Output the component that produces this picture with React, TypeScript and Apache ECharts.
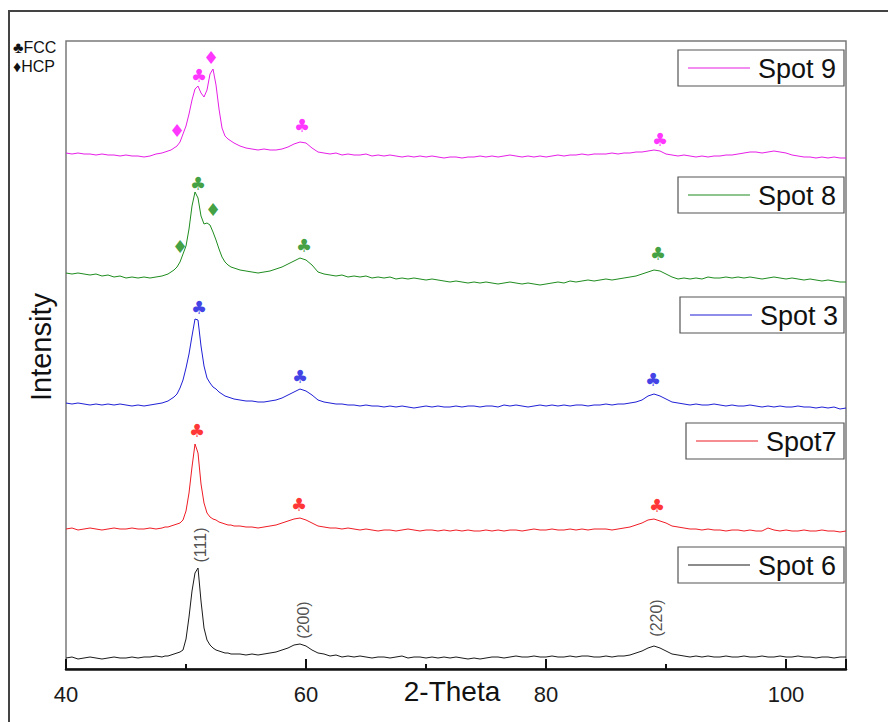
import { useEffect, useRef } from 'react';
import * as echarts from 'echarts';

// 2-theta sampling positions (degrees)
const THETA = [
  40, 40.5, 41, 41.5, 42, 42.5, 43, 43.5, 44, 44.5, 45, 45.5, 46, 46.5, 47, 47.5, 48,
  48.25, 48.5, 48.75, 49, 49.25, 49.5, 49.75, 50, 50.25, 50.5, 50.75, 51, 51.25, 51.5, 51.75, 52, 52.25, 52.5, 52.75, 53, 53.25, 53.5, 53.75, 54,
  54.5, 55, 55.5, 56, 56.5, 57, 57.5, 58, 58.5, 59, 59.5, 60, 60.5, 61, 61.5, 62, 62.5, 63, 63.5, 64,
  64.5, 65, 65.5, 66, 66.5, 67, 67.5, 68, 68.5, 69, 69.5, 70, 70.5, 71, 71.5, 72, 72.5, 73, 73.5, 74,
  74.5, 75, 75.5, 76, 76.5, 77, 77.5, 78, 78.5, 79, 79.5, 80, 80.5, 81, 81.5, 82, 82.5, 83, 83.5, 84,
  84.5, 85, 85.5, 86, 86.5, 87, 87.5, 88, 88.5, 89, 89.5, 90, 90.5, 91, 91.5, 92, 92.5, 93, 93.5, 94,
  94.5, 95, 95.5, 96, 96.5, 97, 97.5, 98, 98.5, 99, 99.5, 100, 100.5, 101, 101.5, 102, 102.5, 103, 103.5, 104, 104.5, 105,
];

// Diffracted intensity (a.u.) for each spot, one value per THETA position
const SPOT_6 = [
  11, 12, 10, 11, 12, 11, 10, 11, 12, 11, 11, 12, 11, 12, 12, 13, 12,
  13, 13, 14, 15, 16, 17, 19, 30, 52, 78, 96, 101, 68, 41, 29, 24, 21, 19, 18, 17, 16, 16, 15, 15,
  15, 14, 15, 14, 15, 16, 17, 19, 21, 24, 25, 23, 19, 16, 15, 13, 14, 12, 13, 12,
  13, 12, 11, 12, 12, 11, 12, 13, 11, 12, 12, 11, 12, 11, 12, 11, 12, 11, 10, 11,
  10, 11, 12, 12, 11, 12, 13, 12, 12, 13, 12, 12, 13, 12, 12, 13, 12, 13, 13, 12,
  12, 13, 12, 13, 13, 14, 16, 18, 21, 23, 21, 18, 15, 14, 13, 12, 13, 12, 13, 12,
  12, 13, 12, 12, 13, 12, 12, 13, 12, 12, 13, 12, 12, 13, 12, 12, 11, 12, 12, 11, 12, 12,
];
const SPOT_7 = [
  10, 11, 9, 10, 11, 10, 9, 10, 11, 10, 10, 11, 10, 10, 11, 10, 11,
  12, 12, 13, 14, 15, 16, 19, 28, 46, 72, 95, 86, 55, 36, 26, 22, 20, 19, 17, 16, 15, 14, 14, 13,
  13, 12, 12, 11, 12, 13, 14, 16, 18, 20, 21, 19, 16, 13, 12, 11, 11, 10, 11, 10,
  9, 10, 9, 8, 9, 9, 8, 9, 10, 9, 8, 9, 9, 8, 9, 8, 9, 8, 9, 8,
  8, 9, 8, 9, 8, 9, 9, 8, 9, 10, 9, 9, 10, 9, 9, 10, 9, 10, 9, 10,
  10, 10, 9, 10, 11, 12, 14, 16, 19, 20, 18, 16, 13, 12, 11, 10, 10, 9, 10, 9,
  9, 8, 9, 9, 8, 9, 8, 8, 11, 9, 8, 9, 8, 8, 9, 8, 8, 9, 8, 8, 7, 8,
];
const SPOT_3 = [
  11, 10, 11, 10, 9, 10, 9, 10, 9, 10, 9, 8, 9, 8, 9, 10, 11,
  12, 13, 15, 17, 20, 26, 34, 46, 60, 78, 95, 94, 68, 48, 36, 31, 27, 25, 22, 20, 18, 17, 16, 15,
  14, 13, 13, 12, 12, 13, 14, 16, 19, 22, 25, 23, 19, 14, 12, 11, 10, 10, 9, 9,
  8, 9, 8, 8, 7, 8, 7, 8, 7, 6, 7, 8, 7, 8, 7, 7, 8, 7, 8, 8,
  7, 8, 8, 7, 9, 8, 9, 8, 7, 8, 9, 8, 9, 8, 9, 8, 9, 9, 8, 9,
  9, 10, 9, 10, 10, 11, 12, 14, 18, 20, 18, 15, 12, 11, 10, 9, 10, 9, 9, 10,
  9, 8, 9, 8, 8, 9, 8, 7, 8, 7, 8, 7, 7, 8, 7, 7, 6, 7, 6, 7, 5, 6,
];
const SPOT_8 = [
  16, 15, 16, 15, 14, 15, 13, 14, 12, 13, 11, 12, 11, 12, 11, 12, 13,
  14, 15, 17, 19, 22, 27, 35, 43, 60, 83, 97, 91, 73, 65, 66, 64, 57, 49, 40, 32, 27, 24, 22, 21,
  19, 18, 17, 16, 17, 18, 20, 22, 25, 28, 31, 29, 24, 17, 15, 14, 13, 14, 12, 13,
  12, 13, 11, 12, 11, 12, 10, 11, 10, 11, 10, 9, 10, 9, 8, 7, 8, 7, 6, 7,
  6, 7, 6, 5, 6, 7, 6, 5, 6, 5, 4, 5, 6, 7, 6, 8, 7, 8, 9, 8,
  9, 10, 9, 10, 11, 12, 13, 15, 17, 19, 18, 15, 12, 10, 11, 10, 11, 10, 12, 11,
  11, 12, 11, 12, 11, 12, 11, 10, 11, 12, 11, 10, 11, 10, 9, 10, 9, 8, 9, 8, 7, 7,
];
const SPOT_9 = [
  16, 15, 16, 15, 15, 14, 15, 14, 14, 13, 14, 13, 13, 12, 13, 15, 16,
  17, 18, 19, 21, 23, 27, 35, 43, 55, 69, 80, 83, 76, 72, 79, 95, 100, 84, 60, 41, 33, 30, 28, 26,
  23, 21, 20, 19, 20, 19, 19, 20, 22, 25, 27, 26, 21, 17, 16, 15, 16, 14, 15, 14,
  14, 15, 13, 14, 13, 14, 13, 12, 13, 12, 13, 12, 13, 12, 11, 12, 12, 11, 12, 12,
  13, 12, 13, 12, 13, 14, 13, 12, 13, 12, 13, 12, 13, 14, 13, 14, 14, 15, 14, 15,
  15, 15, 16, 15, 16, 16, 17, 17, 18, 19, 18, 15, 14, 13, 14, 13, 12, 13, 12, 13,
  13, 14, 14, 15, 16, 17, 17, 16, 17, 18, 17, 16, 14, 13, 12, 12, 11, 12, 11, 12, 11, 11,
];

const SPOT_NAMES = ['Spot 6', 'Spot7', 'Spot 3', 'Spot 8', 'Spot 9'];
const SPOT_DATA = [SPOT_6, SPOT_7, SPOT_3, SPOT_8, SPOT_9];
// vertical stacking offset of each pattern (a.u.)
const SPOT_OFFSETS = [0, 130, 255, 380, 500];

const FCC = '\u2663';
const HCP = '\u2666';

// Peak annotations: [2-theta, intensity level above the pattern offset, text]
const MARKS_6 = [[51.17, 124, '(111)'], [59.75, 49, '(200)'], [89.17, 51, '(220)']];
const MARKS_7 = [[50.92, 109, FCC], [59.42, 35, FCC], [89.25, 34, FCC]];
const MARKS_3 = [[51.08, 107, FCC], [59.5, 38, FCC], [88.92, 35, FCC]];
const MARKS_8 = [[49.5, 43, HCP], [51.0, 106, FCC], [52.25, 80, HCP], [59.83, 44, FCC], [89.33, 36, FCC]];
const MARKS_9 = [[49.25, 39, HCP], [51.08, 94, FCC], [52.08, 112, HCP], [59.67, 44, FCC], [89.5, 30, FCC]];
const SPOT_MARKS = [MARKS_6, MARKS_7, MARKS_3, MARKS_8, MARKS_9];

const LINE_COLORS = ['#1a1a1a', '#ee1c24', '#1f1fd6', '#1e8c1e', '#e61ee6'];
const MARK_COLORS = ['#222222', '#ff0000', '#1010e0', '#108810', '#ff00ff'];

const FONT = 'Liberation Sans, Arial, sans-serif';

// legend boxes: left, top of each framed key (same order as SPOT_NAMES)
const KEY_BOXES = [
  { x: 678, y: 547 },
  { x: 686, y: 423 },
  { x: 680, y: 297 },
  { x: 678, y: 177 },
  { x: 678, y: 50 },
];

export default function App() {
  const ref = useRef<HTMLDivElement>(null);

  useEffect(() => {
    if (!ref.current) return;
    const chart = echarts.init(ref.current, null, { renderer: 'svg' });

    const lineSeries = SPOT_NAMES.map((name, i) => ({
      type: 'line',
      name,
      data: THETA.map((t, k) => [t, SPOT_DATA[i][k] + SPOT_OFFSETS[i]]),
      showSymbol: false,
      symbol: 'none',
      lineStyle: { width: 1, color: LINE_COLORS[i] },
      itemStyle: { color: LINE_COLORS[i] },
      z: 2,
    }));

    const markSeries = SPOT_NAMES.map((name, i) => ({
      type: 'scatter',
      name: name + ' peaks',
      data: SPOT_MARKS[i].map(([t, h, s]) => ({
        value: [t as number, (h as number) + SPOT_OFFSETS[i]],
        name: s as string,
      })),
      symbolSize: 1,
      itemStyle: { color: 'rgba(0,0,0,0)' },
      silent: true,
      z: 3,
      label: {
        show: true,
        position: 'inside',
        formatter: '{b}',
        color: MARK_COLORS[i],
        fontSize: i === 0 ? 16 : 18,
        rotate: i === 0 ? 90 : 0,
        fontFamily: i === 0 ? FONT : 'DejaVu Sans, sans-serif',
      },
    }));

    const keyGraphics: any[] = [];
    SPOT_NAMES.forEach((name, i) => {
      const b = KEY_BOXES[i];
      const w = 844 - b.x;
      const h = 36;
      const cy = b.y + h / 2;
      keyGraphics.push(
        {
          type: 'rect',
          shape: { x: b.x, y: b.y, width: w, height: h },
          style: { fill: '#ffffff', stroke: '#555555', lineWidth: 1.2 },
          z: 10,
        },
        {
          type: 'line',
          shape: { x1: b.x + 10, y1: cy, x2: b.x + 72, y2: cy },
          style: { stroke: LINE_COLORS[i], lineWidth: 1.2 },
          z: 11,
        },
        {
          type: 'text',
          x: b.x + 80,
          y: cy + 1,
          style: {
            text: name,
            fontSize: 27,
            fontFamily: FONT,
            fill: '#111111',
            align: 'left',
            verticalAlign: 'middle',
          },
          z: 11,
        }
      );
    });

    chart.setOption({
      animation: false,
      textStyle: { fontFamily: FONT },
      grid: {
        left: 66,
        right: 42,
        top: 41,
        bottom: 53,
        show: true,
        borderColor: '#7a7a7a',
        borderWidth: 1.5,
      },
      xAxis: {
        type: 'value',
        min: 40,
        max: 105,
        interval: 20,
        axisLine: { show: true, onZero: false, lineStyle: { color: '#111111', width: 2.5 } },
        axisTick: { show: true, inside: true, length: 10, lineStyle: { color: '#111111', width: 2 } },
        minorTick: { show: true, splitNumber: 2, length: 5, lineStyle: { color: '#111111', width: 2 } },
        axisLabel: { fontSize: 22, color: '#1a1a1a', margin: 14, showMaxLabel: false, fontFamily: FONT },
        splitLine: { show: false },
      },
      yAxis: {
        type: 'value',
        min: 0,
        max: 628,
        axisLine: { show: false },
        axisTick: { show: false },
        axisLabel: { show: false },
        splitLine: { show: false },
      },
      graphic: [
        {
          type: 'rect',
          shape: { x: 9, y: 11, width: 1000, height: 1000 },
          style: { fill: 'none', stroke: '#444444', lineWidth: 2 },
          silent: true,
          z: -1,
        },
        {
          type: 'text',
          x: 452,
          y: 691,
          style: { text: '2-Theta', fontSize: 28, fontFamily: FONT, fill: '#111111', align: 'center', verticalAlign: 'middle' },
        },
        {
          type: 'text',
          x: 41,
          y: 347,
          rotation: Math.PI / 2,
          style: { text: 'Intensity', fontSize: 29, fontFamily: FONT, fill: '#111111', align: 'center', verticalAlign: 'middle' },
        },
        {
          type: 'text',
          x: 13,
          y: 47,
          style: { text: FCC + 'FCC', fontSize: 16, fontFamily: FONT, fill: '#111111', align: 'left', verticalAlign: 'middle' },
        },
        {
          type: 'text',
          x: 13,
          y: 66,
          style: { text: HCP + 'HCP', fontSize: 16, fontFamily: FONT, fill: '#111111', align: 'left', verticalAlign: 'middle' },
        },
        ...keyGraphics,
      ],
      series: [...lineSeries, ...markSeries],
    });

    return () => chart.dispose();
  }, []);

  return (
    <div
      ref={ref}
      style={{ position: 'fixed', left: 0, top: 0, width: 888, height: 722, background: '#ffffff' }}
    />
  );
}
